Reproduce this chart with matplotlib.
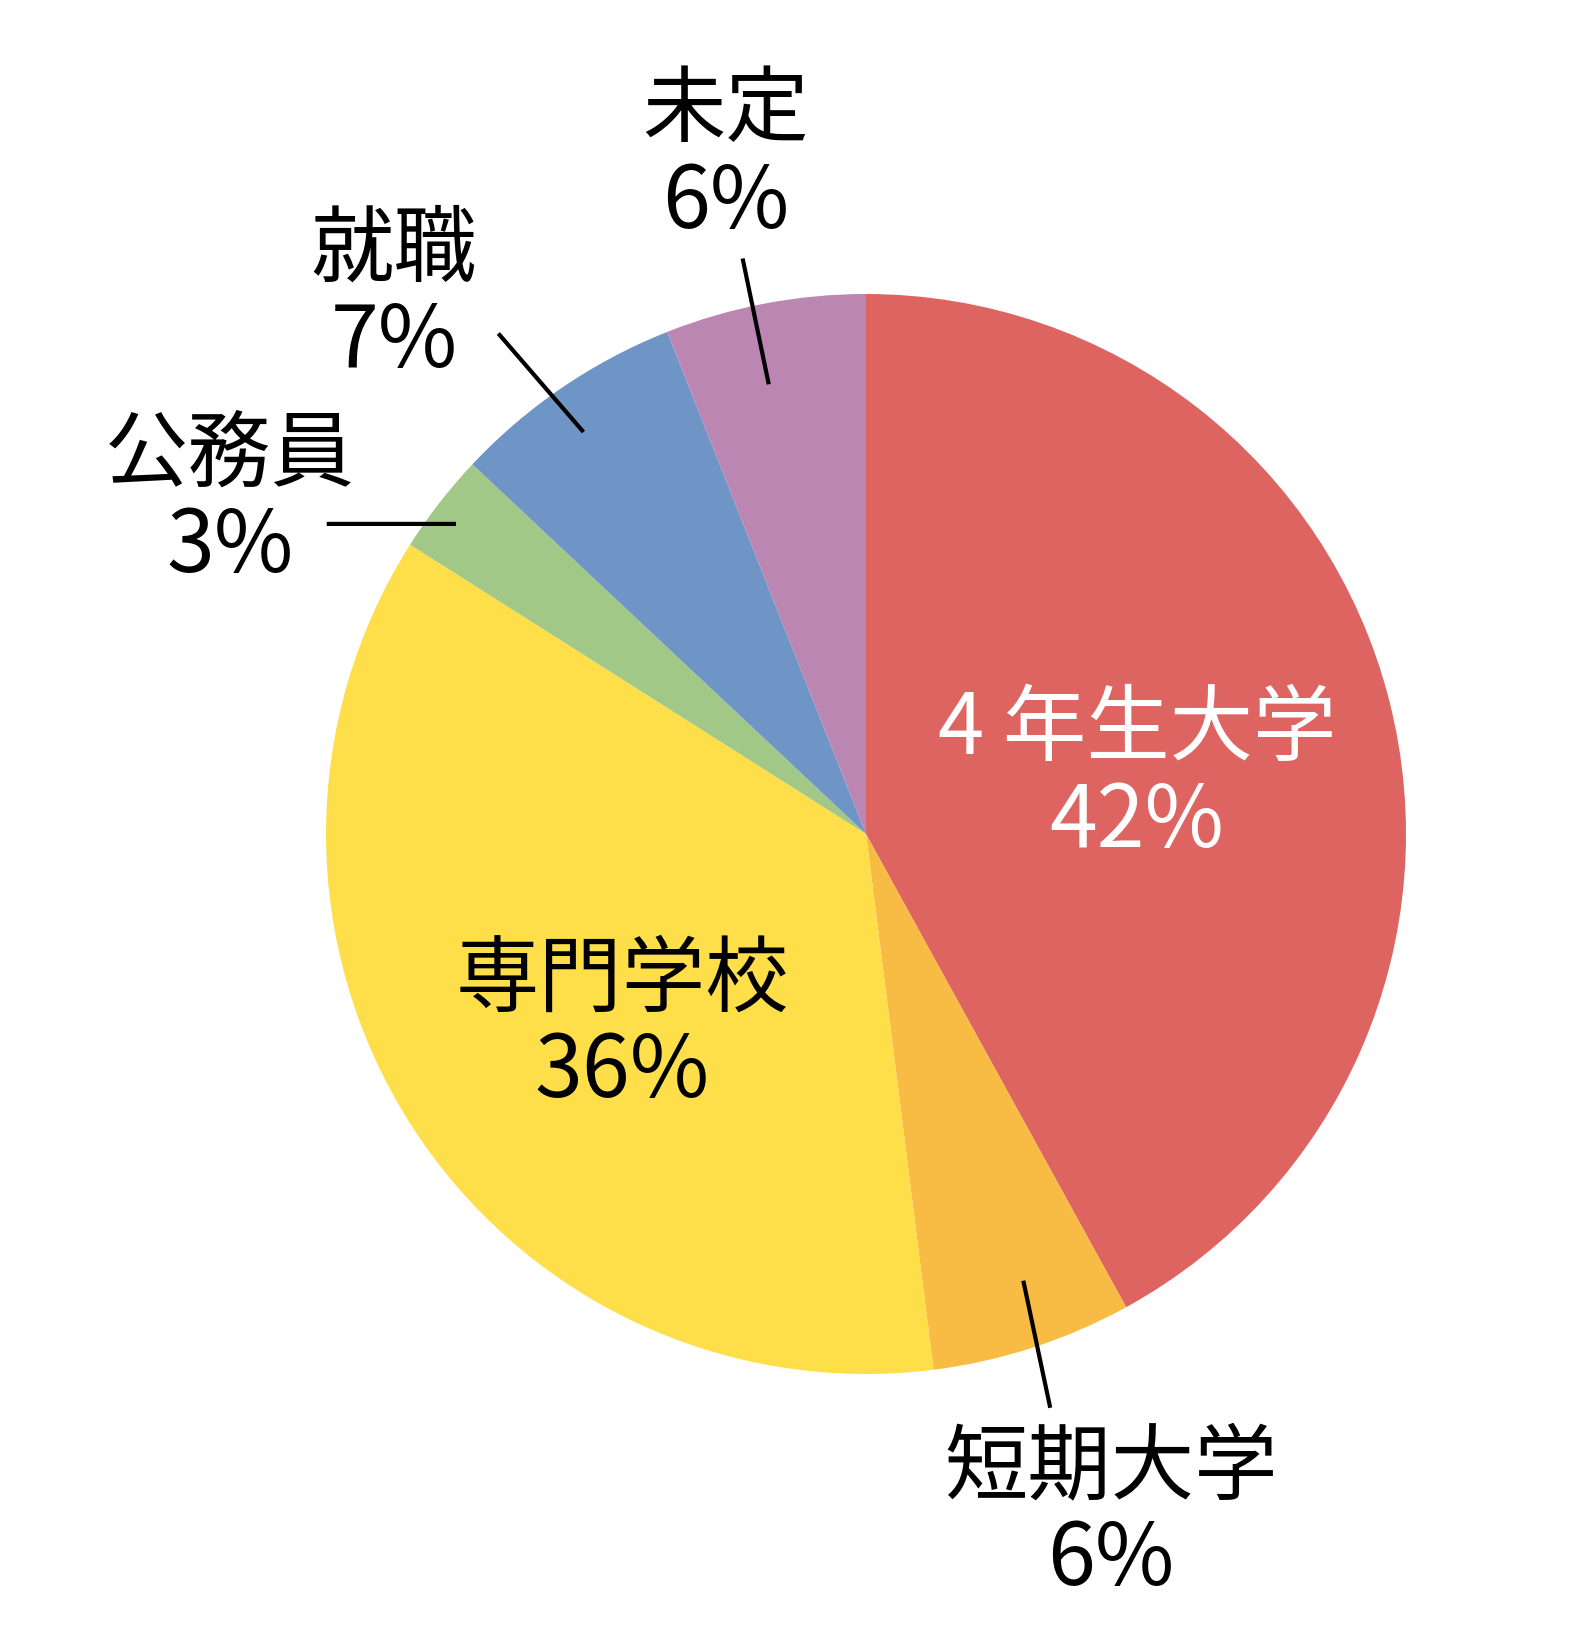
import numpy as np
import matplotlib
matplotlib.use("Agg")
import matplotlib.pyplot as plt

plt.rcParams["font.family"] = ["Noto Sans CJK JP", "DejaVu Sans"]

# data, clockwise from 12 o'clock
categories = ["4 年生大学", "短期大学", "専門学校", "公務員", "就職", "未定"]
shares = [42, 6, 36, 3, 7, 6]
colors = ["#DD6461", "#F8BB43", "#FEDF4A", "#A1C886", "#6E95C5", "#BC86B2"]
text_colors = ["white", "black", "black", "black", "black", "black"]

# label centres in pixels (x, y from top of image)
label_xy = [(1137, 730), (1111, 1468), (622, 980), (230, 455), (394, 250), (726, 111)]
# leader lines: (angle offset from slice middle in deg, radius as fraction of R)
# for the inner and outer end; None = no leader
leader = [None,
          ((1.4, 0.877), (-0.2, 1.116)),
          None,
          ((0.7, 0.952), (7.9, 1.152)),
          ((0.9, 0.91), (2.1, 1.15)),
          ((1.4, 0.852), (1.3, 1.09))]

W, H = 1584, 1647
CX, CY, R = 866, H - 834, 540
LINE_GAP = 93

fig = plt.figure(figsize=(W / 100, H / 100), dpi=100)
ax = fig.add_axes([0, 0, 1, 1])

wedges, _ = ax.pie(shares, colors=colors, startangle=90, counterclock=False,
                   center=(CX, CY), radius=R, wedgeprops={"linewidth": 0},
                   frame=True)
ax.set_xlim(0, W)
ax.set_ylim(0, H)
ax.set_aspect("equal")
ax.axis("off")


def polar(theta_deg, frac):
    t = np.deg2rad(theta_deg)
    return CX + frac * R * np.cos(t), CY + frac * R * np.sin(t)


for w, name, val, (lx, ly), tc, ld in zip(wedges, categories, shares,
                                           label_xy, text_colors, leader):
    ax.text(lx, H - ly, name, ha="center", va="center", fontsize=60, color=tc)
    ax.text(lx, H - ly - LINE_GAP, f"{val}%", ha="center", va="center",
            fontsize=62, color=tc)
    if ld is None:
        continue
    mid = (w.theta1 + w.theta2) / 2
    (d0, f0), (d1, f1) = ld
    x0, y0 = polar(mid + d0, f0)
    x1, y1 = polar(mid + d1, f1)
    ax.plot([x0, x1], [y0, y1], color="black", lw=3.0, solid_capstyle="butt")

fig.savefig("out.png", dpi=100)
